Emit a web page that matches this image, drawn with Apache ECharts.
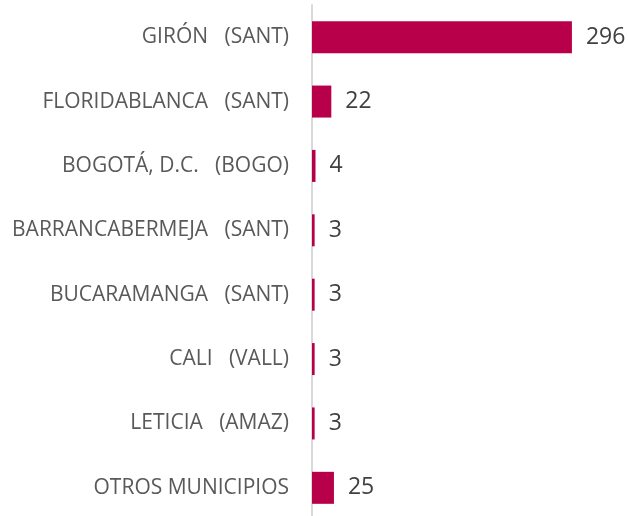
<!DOCTYPE html>
<html><head><meta charset="utf-8">
<script src="https://cdn.jsdelivr.net/npm/echarts@6/dist/echarts.min.js"></script>
<style>html,body{margin:0;padding:0;background:#fff}#c{width:629px;height:516px}</style>
</head><body><div id="c"></div>
<script>
const categories = ["GIRÓN   (SANT)","FLORIDABLANCA   (SANT)","BOGOTÁ, D.C.   (BOGO)","BARRANCABERMEJA   (SANT)","BUCARAMANGA   (SANT)","CALI   (VALL)","LETICIA   (AMAZ)","OTROS MUNICIPIOS"];
const values = [296,22,4,3,3,3,3,25];
const chart = echarts.init(document.getElementById('c'), null, {renderer:'canvas'});
chart.setOption({
  animation:false,
  grid:{left:312,top:5,width:317,height:515,containLabel:false,outerBoundsMode:'none'},
  xAxis:{type:'value',min:0,max:361,show:false},
  yAxis:{type:'category',data:categories,inverse:true,
    axisLine:{show:true,lineStyle:{color:'#d9d9d9',width:2}},
    axisTick:{show:false},
    axisLabel:{color:'#595959',fontSize:21,fontFamily:'Open Sans',margin:23}},
  series:[{type:'bar',data:values,barWidth:32,
    itemStyle:{color:'#B8004A'},
    label:{show:true,position:'right',distance:14,fontSize:23,color:'#404040',fontFamily:'Open Sans'}}]
});
</script></body></html>
